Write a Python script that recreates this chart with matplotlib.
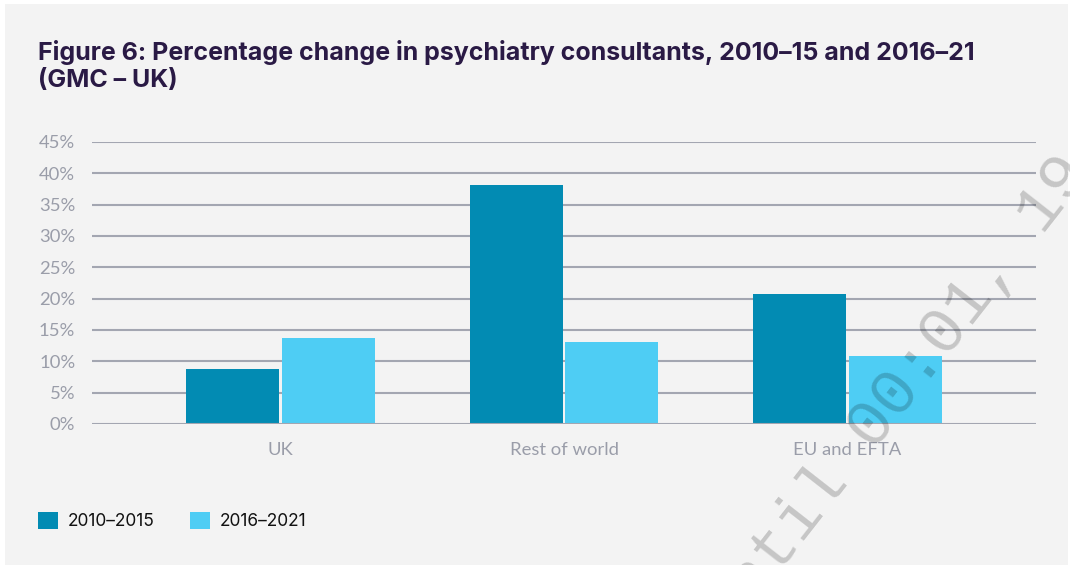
import matplotlib
matplotlib.use("Agg")
import matplotlib.pyplot as plt
from matplotlib.patches import Rectangle, Patch
import numpy as np

categories = ["UK", "Rest of world", "EU and EFTA"]
series_names = ["2010–2015", "2016–2021"]
values_2010_2015 = [8.8, 38.2, 20.8]
values_2016_2021 = [13.8, 13.1, 10.9]
y_ticks = [0, 5, 10, 15, 20, 25, 30, 35, 40, 45]
y_tick_labels = [f"{t}%" for t in y_ticks]

W, H = 1070, 565
fig = plt.figure(figsize=(W / 100, H / 100), dpi=100, facecolor="white")

# light grey panel
fig.patches.append(Rectangle((5 / W, 0), (1068 - 5) / W, (H - 4) / H,
                             transform=fig.transFigure, facecolor="#f3f3f3",
                             edgecolor="none", zorder=-5))

ax = fig.add_axes([92 / W, (H - 424) / H, (1036 - 92) / W, (424 - 142) / H])
ax.set_facecolor("none")
ax.set_zorder(2)

dark = "#028bb3"
light = "#4ecdf4"
grid_c = "#a3a6b1"

x = np.arange(len(categories))
bw = 0.328
off = 0.169
ax.bar(x - off, values_2010_2015, bw, color=dark, zorder=2)
ax.bar(x + off, values_2016_2021, bw, color=light, zorder=2)

ax.set_xlim(-0.665, 2.665)
ax.set_ylim(0, 45)
for t in y_ticks:
    ax.axhline(t, color=grid_c, lw=1.5, zorder=1 if t > 0 else 3)

for s in ax.spines.values():
    s.set_visible(False)
ax.set_yticks(y_ticks)
ax.set_yticklabels(y_tick_labels)
ax.set_xticks(x)
ax.set_xticklabels(categories)
ax.tick_params(axis="both", length=0, colors="#9a9da9", labelsize=13.3)
ax.tick_params(axis="y", pad=12)
ax.tick_params(axis="x", pad=13)
for lab in ax.get_xticklabels() + ax.get_yticklabels():
    lab.set_fontfamily("Lato")

fig.text(38 / W, 1 - 66 / H,
         "Figure 6: Percentage change in psychiatry consultants, 2010–15 and 2016–21\n(GMC – UK)",
         fontsize=18, fontweight="bold", color="#2a1a45", family="Inter",
         va="center", ha="left", linespacing=1.2)

handles = [Patch(facecolor=dark, edgecolor="none"), Patch(facecolor=light, edgecolor="none")]
leg = fig.legend(handles, series_names, loc="center left",
                 bbox_to_anchor=(22 / W, 1 - 521 / H), ncol=2, frameon=False,
                 handlelength=1.15, handleheight=1.15, handletextpad=0.6,
                 columnspacing=2.0, prop={"family": "Inter", "size": 12.5})
for t in leg.get_texts():
    t.set_color("#111111")

# watermark
fig.text(909 / W, 1 - 379 / H, "ntil 00:01, 19", family="Liberation Mono",
         fontsize=47, color="black", alpha=0.19, rotation=52,
         rotation_mode="anchor", ha="center", va="center", zorder=10)

fig.savefig("out.png", dpi=100, facecolor="white")
